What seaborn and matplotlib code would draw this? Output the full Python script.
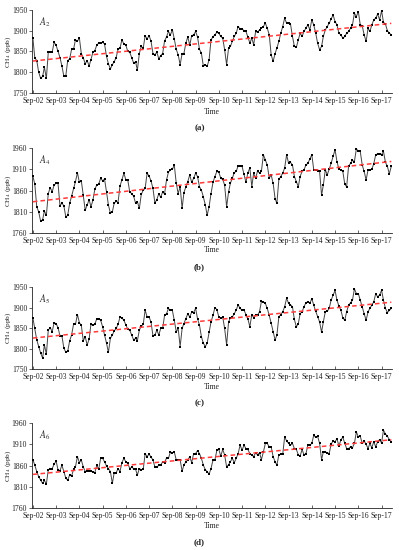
import matplotlib
matplotlib.use("Agg")
import matplotlib.pyplot as plt
import matplotlib.dates as mdates
import numpy as np
import pandas as pd
import seaborn as sns

# monthly CH4 (ppb), Sep-2002 .. Feb-2018, one row per Sep..Aug year
a2 = [1882, 1835, 1828, 1800, 1785, 1790, 1812, 1785, 1848, 1848, 1848, 1872,
      1865, 1850, 1835, 1815, 1790, 1792, 1828, 1832, 1855, 1855, 1878, 1875,
      1882, 1845, 1835, 1820, 1828, 1815, 1830, 1848, 1852, 1865, 1870, 1870,
      1872, 1868, 1838, 1820, 1808, 1818, 1825, 1835, 1855, 1858, 1878, 1868,
      1865, 1850, 1848, 1835, 1822, 1825, 1805, 1845, 1862, 1858, 1888, 1880,
      1888, 1875, 1845, 1842, 1848, 1832, 1840, 1845, 1875, 1885, 1898, 1890,
      1902, 1880, 1855, 1842, 1818, 1845, 1845, 1870, 1885, 1865, 1888, 1890,
      1898, 1885, 1855, 1846, 1814, 1818, 1814, 1830, 1878, 1885, 1890, 1896,
      1894, 1886, 1882, 1854, 1818, 1858, 1862, 1874, 1886, 1894, 1910, 1904,
      1904, 1900, 1898, 1885, 1870, 1882, 1866, 1898, 1896, 1902, 1906, 1910,
      1918, 1906, 1890, 1842, 1826, 1845, 1858, 1874, 1894, 1910, 1930, 1918,
      1918, 1916, 1886, 1862, 1860, 1878, 1894, 1886, 1898, 1906, 1914, 1902,
      1926, 1914, 1894, 1870, 1854, 1862, 1886, 1902, 1910, 1918, 1928, 1938,
      1922, 1914, 1894, 1890, 1882, 1886, 1894, 1898, 1906, 1914, 1942, 1934,
      1946, 1914, 1912, 1890, 1874, 1906, 1898, 1914, 1926, 1930, 1940, 1926,
      1948, 1920, 1916, 1900, 1894, 1890]

a4 = [1894, 1875, 1822, 1810, 1788, 1792, 1812, 1802, 1853, 1867, 1857, 1873,
      1877, 1877, 1824, 1831, 1824, 1798, 1802, 1830, 1847, 1865, 1881, 1902,
      1879, 1883, 1849, 1814, 1826, 1839, 1822, 1837, 1863, 1873, 1875, 1889,
      1883, 1887, 1857, 1826, 1807, 1810, 1830, 1835, 1832, 1871, 1885, 1901,
      1885, 1885, 1857, 1853, 1847, 1830, 1834, 1818, 1851, 1861, 1865, 1901,
      1894, 1883, 1865, 1831, 1839, 1853, 1844, 1857, 1852, 1885, 1903, 1909,
      1910, 1920, 1877, 1853, 1869, 1818, 1855, 1869, 1881, 1897, 1879, 1889,
      1901, 1893, 1869, 1861, 1845, 1826, 1802, 1822, 1853, 1879, 1893, 1905,
      1903, 1889, 1886, 1873, 1822, 1857, 1877, 1889, 1902, 1905, 1918, 1917,
      1917, 1898, 1879, 1902, 1913, 1869, 1901, 1889, 1906, 1901, 1905, 1944,
      1932, 1920, 1889, 1897, 1877, 1841, 1830, 1886, 1893, 1901, 1913, 1944,
      1924, 1926, 1920, 1893, 1881, 1869, 1893, 1905, 1909, 1920, 1924, 1934,
      1944, 1909, 1908, 1907, 1905, 1849, 1873, 1909, 1897, 1910, 1924, 1940,
      1956, 1928, 1910, 1909, 1905, 1875, 1869, 1917, 1924, 1931, 1928, 1958,
      1952, 1952, 1920, 1905, 1885, 1909, 1909, 1910, 1923, 1944, 1946, 1946,
      1944, 1952, 1926, 1917, 1899, 1917]

a5 = [1875, 1849, 1821, 1805, 1789, 1777, 1809, 1786, 1845, 1851, 1841, 1863,
      1861, 1851, 1831, 1831, 1801, 1791, 1793, 1819, 1833, 1859, 1859, 1883,
      1863, 1857, 1819, 1829, 1809, 1823, 1859, 1857, 1859, 1873, 1873, 1869,
      1853, 1833, 1813, 1791, 1825, 1833, 1843, 1849, 1859, 1877, 1875, 1869,
      1858, 1847, 1845, 1833, 1821, 1825, 1819, 1845, 1855, 1859, 1894, 1877,
      1877, 1865, 1831, 1833, 1845, 1833, 1849, 1849, 1881, 1885, 1898, 1893,
      1893, 1869, 1841, 1849, 1805, 1849, 1861, 1873, 1885, 1877, 1889, 1888,
      1898, 1873, 1857, 1829, 1813, 1805, 1813, 1840, 1865, 1881, 1900, 1895,
      1877, 1875, 1877, 1849, 1809, 1865, 1875, 1877, 1885, 1894, 1907, 1898,
      1894, 1894, 1883, 1873, 1853, 1883, 1875, 1881, 1881, 1890, 1915, 1914,
      1910, 1898, 1881, 1862, 1841, 1821, 1833, 1877, 1883, 1890, 1902, 1923,
      1910, 1907, 1902, 1871, 1853, 1861, 1885, 1890, 1902, 1912, 1914, 1910,
      1922, 1906, 1891, 1878, 1865, 1840, 1865, 1890, 1891, 1898, 1918, 1930,
      1942, 1918, 1904, 1894, 1875, 1869, 1890, 1906, 1912, 1918, 1946, 1934,
      1934, 1918, 1902, 1885, 1869, 1890, 1898, 1906, 1914, 1934, 1926, 1931,
      1942, 1918, 1898, 1888, 1893, 1898]

a6 = [1874, 1861, 1846, 1834, 1826, 1818, 1825, 1817, 1850, 1853, 1853, 1863,
      1871, 1850, 1848, 1861, 1846, 1830, 1826, 1838, 1835, 1851, 1857, 1881,
      1867, 1873, 1857, 1846, 1847, 1848, 1847, 1845, 1843, 1861, 1851, 1877,
      1877, 1869, 1859, 1853, 1846, 1818, 1843, 1843, 1853, 1846, 1867, 1877,
      1869, 1865, 1853, 1856, 1853, 1851, 1838, 1853, 1850, 1851, 1888, 1881,
      1887, 1880, 1873, 1857, 1856, 1861, 1861, 1869, 1867, 1878, 1877, 1892,
      1890, 1892, 1873, 1873, 1873, 1847, 1861, 1869, 1873, 1881, 1867, 1888,
      1888, 1895, 1888, 1877, 1861, 1850, 1846, 1840, 1853, 1873, 1873, 1896,
      1898, 1882, 1898, 1885, 1857, 1862, 1869, 1877, 1867, 1877, 1888, 1908,
      1896, 1908, 1900, 1898, 1888, 1885, 1881, 1890, 1885, 1890, 1874, 1892,
      1912, 1912, 1904, 1904, 1881, 1869, 1861, 1885, 1887, 1887, 1927, 1918,
      1912, 1908, 1912, 1900, 1898, 1885, 1882, 1898, 1885, 1888, 1908, 1908,
      1912, 1931, 1926, 1929, 1912, 1874, 1892, 1892, 1890, 1888, 1910, 1918,
      1916, 1923, 1906, 1920, 1927, 1912, 1900, 1900, 1904, 1902, 1912, 1939,
      1927, 1929, 1912, 1918, 1910, 1900, 1912, 1902, 1916, 1904, 1916, 1921,
      1913, 1943, 1934, 1929, 1921, 1916]

series = [("A_2", a2), ("A_4", a4), ("A_5", a5), ("A_6", a6)]
panel_tags = ["(a)", "(b)", "(c)", "(d)"]
y_limits = [(1750, 1950), (1760, 1960), (1750, 1950), (1760, 1960)]
y_steps = [50, 50, 50, 50]

sns.set_style("ticks")
plt.rcParams["font.family"] = ["Liberation Serif", "DejaVu Serif"]
plt.rcParams["mathtext.fontset"] = "stix"

fig = plt.figure(figsize=(3.99, 5.5), dpi=100)

# axes boxes in figure fractions: [left, bottom, width, height]
boxes = [[0.080, 0.831, 0.902, 0.151],
         [0.080, 0.576, 0.902, 0.155],
         [0.080, 0.329, 0.902, 0.149],
         [0.080, 0.076, 0.902, 0.155]]
tag_y = [128, 267, 403, 542]
time_y = [112, 250, 387, 526]

sep_ticks = mdates.date2num(pd.date_range("2002-09-01", "2017-09-01", freq="12MS"))

for i, (name, vals) in enumerate(series):
    dates = pd.date_range("2002-09-01", periods=len(vals), freq="MS")
    df = pd.DataFrame({"t": mdates.date2num(dates), "ch4": vals})
    ax = fig.add_axes(boxes[i])
    sns.lineplot(data=df, x="t", y="ch4", ax=ax, color="#444444", lw=0.7,
                 marker="s", markersize=2.0, markeredgewidth=0,
                 markerfacecolor="black", zorder=3)
    sns.regplot(data=df, x="t", y="ch4", ax=ax, scatter=False, ci=None,
                truncate=True,
                line_kws=dict(color="#ff3b3b", lw=1.1, ls=(0, (3, 2)), zorder=4))
    lo, hi = y_limits[i]
    ax.set_ylim(lo, hi)
    ax.set_yticks(np.arange(lo, hi + 1, y_steps[i]))
    ax.set_xlim(df["t"].iloc[0] - 15, df["t"].iloc[-1] + 8)
    ax.set_xticks(sep_ticks)
    ax.xaxis.set_major_formatter(mdates.DateFormatter("%b-%y"))
    ax.tick_params(axis="x", direction="in", length=2.5, width=0.5,
                   labelsize=5.5, pad=3, labelcolor="#222222")
    ax.tick_params(axis="y", direction="out", length=2, width=0.5,
                   labelsize=5.5, pad=1.5, labelcolor="#222222")
    ax.set_xlabel("")
    ax.set_ylabel("CH$_4$ (ppb)", fontsize=5.3)
    ax.yaxis.set_label_coords(-0.053, 0.5)
    sns.despine(ax=ax)
    for s in ["left", "bottom"]:
        ax.spines[s].set_linewidth(0.6)
        ax.spines[s].set_color("#222222")
    ax.text(0.02, 0.93, "$" + name + "$", transform=ax.transAxes,
            fontsize=7, va="top", ha="left", color="#333333")
    fig.text(212 / 399, 1 - time_y[i] / 550, "Time", fontsize=5.5,
             ha="center", va="center", color="#222222")
    fig.text(0.5, 1 - tag_y[i] / 550, panel_tags[i], fontsize=6.5,
             fontweight="bold", ha="center", va="center")

fig.savefig("out.png", dpi=100)
